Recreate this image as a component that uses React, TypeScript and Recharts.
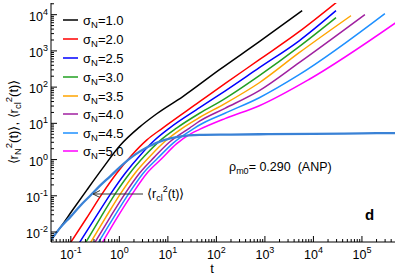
import { LineChart, Line, XAxis, YAxis } from 'recharts'

// [t, <r^2(t)>]
const sigma10 = [[0.039, 0.0061], [0.06, 0.013], [0.106, 0.0385], [0.215, 0.146], [0.458, 0.59], [1.02, 2.4], [2.64, 8.0], [5.9, 18.4], [20, 54], [116, 303], [767, 1800], [5860, 12900]]
const sigma20 = [[0.095, 0.0047], [0.21, 0.024], [0.44, 0.113], [0.88, 0.42], [1.76, 1.28], [3.7, 3.5], [7.8, 7.4], [45, 39.5], [150, 125], [767, 571], [5080, 3390], [30000, 22000]]
const sigma25 = [[0.145, 0.0047], [0.32, 0.025], [0.66, 0.113], [1.32, 0.42], [2.64, 1.28], [5.3, 3.4], [10.8, 7.4], [45, 27], [150, 78], [767, 344], [5080, 1900], [29200, 12900]]
const sigma30 = [[0.195, 0.0047], [0.41, 0.025], [0.82, 0.113], [1.64, 0.42], [3.3, 1.25], [7, 3.4], [15.1, 7.4], [45, 19], [150, 48], [767, 207], [5080, 1306], [29200, 8260]]
const sigma35 = [[0.245, 0.0047], [0.52, 0.025], [1.05, 0.113], [2.1, 0.42], [4.2, 1.2], [9, 3.3], [20, 7.4], [45, 14.5], [150, 35], [767, 132], [5080, 891], [59400, 9380]]
const sigma40 = [[0.3, 0.0047], [0.64, 0.025], [1.3, 0.113], [2.6, 0.42], [5.2, 1.15], [11, 3.1], [28, 7.4], [45, 11.5], [150, 26], [767, 80], [5080, 472], [115000, 10000]]
const sigma45 = [[0.355, 0.0047], [0.76, 0.025], [1.55, 0.113], [3.1, 0.42], [6.2, 1.1], [13, 2.9], [35.5, 7.4], [45, 9], [150, 19], [767, 51], [5080, 220], [297000, 10660]]
const sigma50 = [[0.43, 0.0047], [0.9, 0.025], [1.85, 0.113], [3.7, 0.42], [7.4, 1.05], [15, 2.7], [30, 5.2], [45, 6.8], [150, 13.5], [767, 30.6], [7930, 160], [499000, 6010]]
const rcl = [[0.039, 0.006], [0.06, 0.013], [0.1, 0.027], [0.16, 0.055], [0.25, 0.1], [0.4, 0.19], [0.64, 0.34], [1.0, 0.6], [2.0, 1.3], [4.0, 2.3], [8, 3.4], [17, 4.3], [45, 4.8], [200, 4.9], [767, 5.0], [1e4, 5.1], [1e5, 5.3], [4.8e5, 5.4]]

const sigmaLabels = ['1.0', '2.0', '2.5', '3.0', '3.5', '4.0', '4.5', '5.0']
const sigmaSeries = [sigma10, sigma20, sigma25, sigma30, sigma35, sigma40, sigma45, sigma50]
const colors = ['#000000', '#ff0000', '#0000ff', '#22a022', '#ffa500', '#a020a0', '#1e90ff', '#ff00ff']

const xExponents = [-1, 0, 1, 2, 3, 4, 5]
const yExponents = [-2, -1, 0, 1, 2, 3, 4]
const X_DOMAIN = [0.039, 4.8e5]
const Y_DOMAIN = [0.0053, 2.1e4]

const FONT = '"Liberation Sans", Arial, Helvetica, sans-serif'

const toPts = (arr: number[][]) => arr.map(([t, r]) => ({ t, r }))

function logTicks(lo: number, hi: number) {
  const out: number[] = []
  for (let k = Math.floor(Math.log10(lo)); k <= Math.ceil(Math.log10(hi)); k++) {
    for (let m = 1; m < 10; m++) {
      const v = m * Math.pow(10, k)
      if (v >= lo && v <= hi) out.push(v)
    }
  }
  return out
}
const xTicks = logTicks(X_DOMAIN[0], X_DOMAIN[1])
const yTicks = logTicks(Y_DOMAIN[0], Y_DOMAIN[1])

const expOf = (v: number) => Math.round(Math.log10(v))
const isMajor = (v: number) => Math.abs(Math.log10(v) - expOf(v)) < 1e-6

function BottomTick({ x, y, payload }: any) {
  const v = payload.value
  const major = isMajor(v)
  const e = expOf(v)
  return (
    <g>
      <line x1={x} x2={x} y1={y} y2={y - (major ? 6 : 3)} stroke="#000" />
      {major && xExponents.includes(e) && (
        <text x={x} y={y + 17} textAnchor="middle" fontSize={12.5} fontFamily={FONT} fill="#000">
          10<tspan dy={-6} fontSize={9}>{e}</tspan>
        </text>
      )}
    </g>
  )
}

function TopTick({ x, y, payload }: any) {
  const major = isMajor(payload.value)
  return <line x1={x} x2={x} y1={y} y2={y + (major ? 6 : 3)} stroke="#000" />
}

function LeftTick({ x, y, payload }: any) {
  const v = payload.value
  const major = isMajor(v)
  const e = expOf(v)
  return (
    <g>
      <line x1={x} x2={x + (major ? 6 : 3)} y1={y} y2={y} stroke="#000" />
      {major && yExponents.includes(e) && (
        <text x={x - 3} y={y + 6} textAnchor="end" fontSize={12.5} fontFamily={FONT} fill="#000">
          10<tspan dy={-6} fontSize={9}>{e}</tspan>
        </text>
      )}
    </g>
  )
}

function RightTick({ x, y, payload }: any) {
  const major = isMajor(payload.value)
  return <line x1={x} x2={x - (major ? 6 : 3)} y1={y} y2={y} stroke="#000" />
}

function Overlay() {
  const legendY = [20, 39, 58, 77, 96, 114, 133, 151]
  return (
    <svg width={399} height={275} style={{ position: 'absolute', left: 0, top: 0, pointerEvents: 'none' }}>
      <g fontFamily={FONT} fill="#000">
        {sigmaLabels.map((s, i) => (
          <g key={s}>
            <line x1={63} x2={78} y1={legendY[i]} y2={legendY[i]} stroke={colors[i]} strokeWidth={1.5} />
            <text x={83} y={legendY[i] + 4.5} fontSize={13}>
              σ<tspan dy={3} fontSize={9.5}>N</tspan><tspan dy={-3}>={s}</tspan>
            </text>
          </g>
        ))}
        <text transform="translate(18,122) rotate(-90)" textAnchor="middle" fontSize={13}>
          ⟨r<tspan dy={3} fontSize={9.5}>N</tspan><tspan dy={-9} fontSize={9.5}>2</tspan><tspan dy={6}>(t)⟩, ⟨r</tspan><tspan dy={3} fontSize={9.5}>cl</tspan><tspan dy={-9} fontSize={9.5}>2</tspan><tspan dy={6}>(t)⟩</tspan>
        </text>
        <text x={212} y={273} textAnchor="middle" fontSize={13}>t</text>
        <text x={229} y={171} fontSize={12.5} style={{ whiteSpace: 'pre' }}>
          ρ<tspan dy={3} fontSize={9}>m0</tspan><tspan dy={-3}>= 0.290  (ANP)</tspan>
        </text>
        <text x={365} y={220} fontSize={15} fontWeight="bold">d</text>
        <line x1={93} x2={143} y1={194} y2={194} stroke="#333" strokeWidth={1} />
        <polyline points="100,190.5 93,194 100,197.5" fill="none" stroke="#333" strokeWidth={1} />
        <text x={147} y={198} fontSize={12.5}>
          ⟨r<tspan dy={3} fontSize={9}>cl</tspan><tspan dy={-9} fontSize={9}>2</tspan><tspan dy={6}>(t)⟩</tspan>
        </text>
      </g>
    </svg>
  )
}

export default function App() {
  return (
    <div style={{ position: 'absolute', left: 0, top: 0, width: 399, height: 275, background: '#fff' }}>
      <LineChart width={399} height={275} margin={{ top: 3, right: 4, bottom: 0, left: 0 }}>
        <XAxis xAxisId="b" dataKey="t" type="number" scale="log" domain={X_DOMAIN} allowDataOverflow
          ticks={xTicks} interval={0} tickSize={0} tickMargin={0} tickLine={false}
          tick={(p: any) => <BottomTick {...p} />} axisLine={{ stroke: '#000' }} height={33} />
        <XAxis xAxisId="top" orientation="top" dataKey="t" type="number" scale="log" domain={X_DOMAIN} allowDataOverflow
          ticks={xTicks} interval={0} tickSize={0} tickMargin={0} tickLine={false}
          tick={(p: any) => <TopTick {...p} />} axisLine={{ stroke: '#000' }} height={0} />
        <YAxis yAxisId="l" dataKey="r" type="number" scale="log" domain={Y_DOMAIN} allowDataOverflow
          ticks={yTicks} interval={0} tickSize={0} tickMargin={0} tickLine={false}
          tick={(p: any) => <LeftTick {...p} />} axisLine={{ stroke: '#000' }} width={51} />
        <YAxis yAxisId="r" orientation="right" dataKey="r" type="number" scale="log" domain={Y_DOMAIN} allowDataOverflow
          ticks={yTicks} interval={0} tickSize={0} tickMargin={0} tickLine={false}
          tick={(p: any) => <RightTick {...p} />} axisLine={{ stroke: '#000' }} width={0} />
        {sigmaSeries.map((s, i) => (
          <Line key={sigmaLabels[i]} xAxisId="b" yAxisId="l" data={toPts(s)} dataKey="r" type="monotone"
            stroke={colors[i]} strokeWidth={1.5} dot={false} isAnimationActive={false} />
        ))}
        <Line xAxisId="b" yAxisId="l" data={toPts(rcl)} dataKey="r" type="monotone"
          stroke="#3a82d6" strokeWidth={2.3} dot={false} isAnimationActive={false} />
      </LineChart>
      <Overlay />
    </div>
  )
}
